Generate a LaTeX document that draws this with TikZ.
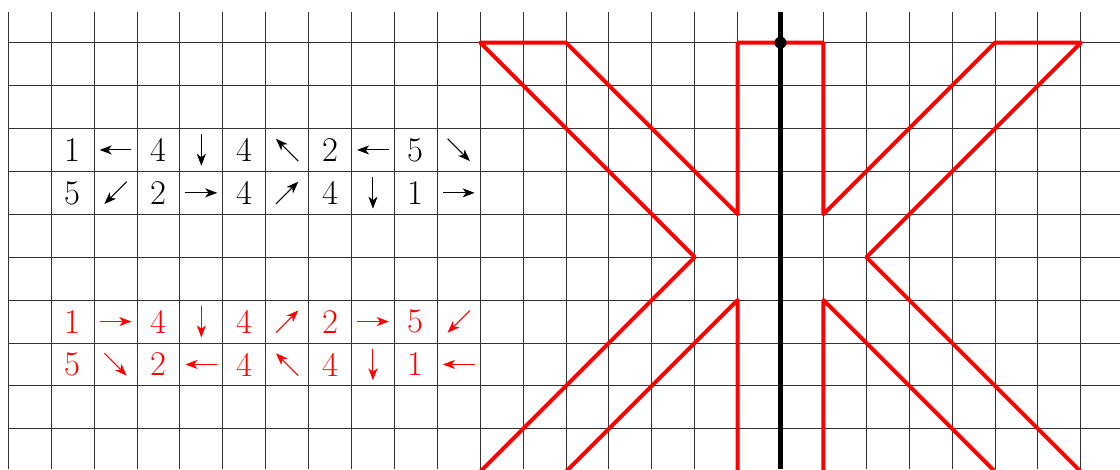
\documentclass[tikz,border=0pt]{standalone}
\usepackage{fontspec}
\usetikzlibrary{arrows.meta}
\tikzset{
  gridline/.style={line width=0.6pt, black!80},
  redline/.style={red, line width=2.6pt, line join=round},
  axisline/.style={black, line width=3.2pt},
  dig/.style={inner sep=0pt, font=\fontsize{23}{27}\selectfont},
  arr/.style={line width=0.7pt, -{Stealth[length=8pt,width=6pt,inset=2.3pt]}},
}
\newcommand{\hE}{0.37}
\newcommand{\dD}{0.26}
\begin{document}
\begin{tikzpicture}
\useasboundingbox (-0.193,-9.937) rectangle (25.913,0.995);
\clip (-0.193,-9.937) rectangle (25.913,0.995);
% grid
\draw[gridline] (0,-9.937) grid (25.913,0.716);
% red shape
\draw[redline] (10.5,-10.5) -- (16,-5) -- (11,0) -- (13,0) -- (17,-4) -- (17,0) -- (19,0) -- (19,-4) -- (23,0) -- (25,0)
  -- (20,-5) -- (25.5,-10.5);
\draw[redline] (12.5,-10.5) -- (17,-6) -- (17,-10.5);
\draw[redline] (23.5,-10.5) -- (19,-6) -- (19,-10.5);
% black axis with dot
\coordinate (atop) at (18,0.716);
\coordinate (abot) at (18,-9.937);
\draw[axisline] (atop) -- (abot);
\fill (18,0) circle (0.14);
% black rows
\begin{scope}[black]
\node[dig] (a1) at (1.5,-2.5) {1};
\draw[arr] (2.5+\hE,-2.5) -- (2.5-\hE,-2.5);
\node[dig] (a3) at (3.5,-2.5) {4};
\draw[arr] (4.5,-2.5+\hE) -- (4.5,-2.5-\hE);
\node[dig] (a5) at (5.5,-2.5) {4};
\draw[arr] (6.5+\dD,-2.5-\dD) -- (6.5-\dD,-2.5+\dD);
\node[dig] (a7) at (7.5,-2.5) {2};
\draw[arr] (8.5+\hE,-2.5) -- (8.5-\hE,-2.5);
\node[dig] (a9) at (9.5,-2.5) {5};
\draw[arr] (10.5-\dD,-2.5+\dD) -- (10.5+\dD,-2.5-\dD);

\node[dig] (b1) at (1.5,-3.5) {5};
\draw[arr] (2.5+\dD,-3.5+\dD) -- (2.5-\dD,-3.5-\dD);
\node[dig] (b3) at (3.5,-3.5) {2};
\draw[arr] (4.5-\hE,-3.5) -- (4.5+\hE,-3.5);
\node[dig] (b5) at (5.5,-3.5) {4};
\draw[arr] (6.5-\dD,-3.5-\dD) -- (6.5+\dD,-3.5+\dD);
\node[dig] (b7) at (7.5,-3.5) {4};
\draw[arr] (8.5,-3.5+\hE) -- (8.5,-3.5-\hE);
\node[dig] (b9) at (9.5,-3.5) {1};
\draw[arr] (10.5-\hE,-3.5) -- (10.5+\hE,-3.5);
\end{scope}
% red rows
\begin{scope}[red]
\node[dig, red] (c1) at (1.5,-6.5) {1};
\draw[arr] (2.5-\hE,-6.5) -- (2.5+\hE,-6.5);
\node[dig, red] (c3) at (3.5,-6.5) {4};
\draw[arr] (4.5,-6.5+\hE) -- (4.5,-6.5-\hE);
\node[dig, red] (c5) at (5.5,-6.5) {4};
\draw[arr] (6.5-\dD,-6.5-\dD) -- (6.5+\dD,-6.5+\dD);
\node[dig, red] (c7) at (7.5,-6.5) {2};
\draw[arr] (8.5-\hE,-6.5) -- (8.5+\hE,-6.5);
\node[dig, red] (c9) at (9.5,-6.5) {5};
\draw[arr] (10.5+\dD,-6.5+\dD) -- (10.5-\dD,-6.5-\dD);

\node[dig, red] (d1) at (1.5,-7.5) {5};
\draw[arr] (2.5-\dD,-7.5+\dD) -- (2.5+\dD,-7.5-\dD);
\node[dig, red] (d3) at (3.5,-7.5) {2};
\draw[arr] (4.5+\hE,-7.5) -- (4.5-\hE,-7.5);
\node[dig, red] (d5) at (5.5,-7.5) {4};
\draw[arr] (6.5+\dD,-7.5-\dD) -- (6.5-\dD,-7.5+\dD);
\node[dig, red] (d7) at (7.5,-7.5) {4};
\draw[arr] (8.5,-7.5+\hE) -- (8.5,-7.5-\hE);
\node[dig, red] (d9) at (9.5,-7.5) {1};
\draw[arr] (10.5+\hE,-7.5) -- (10.5-\hE,-7.5);
\end{scope}
\end{tikzpicture}
\end{document}
